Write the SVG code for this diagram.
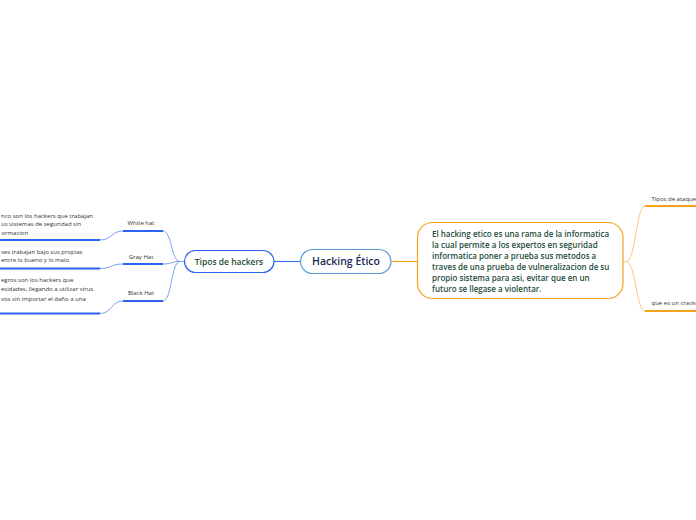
<svg xmlns="http://www.w3.org/2000/svg" width="696" height="520" viewBox="0 0 696 520">
<style>
.bg{fill:#ffffff}
.curveB{fill:none;stroke:#7f9ff5;stroke-width:1}
.lineB{fill:none;stroke:#2d63f0;stroke-width:2}
.curveO{fill:none;stroke:#fbc879;stroke-width:1}
.lineO{fill:none;stroke:#f7a21b;stroke-width:2}
.small{font-family:"Open Sans","Noto Sans",sans-serif;font-size:6px;fill:#333333}
.label{font-family:"Open Sans","Noto Sans",sans-serif;font-size:6px;fill:#333333;text-anchor:middle}
.main{font-family:"Open Sans","Noto Sans",sans-serif;font-size:10.5px;font-weight:600;fill:#1c2a55;text-anchor:middle}
.sub{font-family:"Open Sans","Noto Sans",sans-serif;font-size:8.5px;font-weight:600;fill:#1e4d3a;text-anchor:middle}
.desc{font-family:"Open Sans","Noto Sans",sans-serif;font-size:8px;font-weight:600;fill:#1e4d3a}
</style>
<rect class="bg" x="0" y="0" width="696" height="520"/>
<g id="connectors">
  <path d="M274,261.5 L300,261.5" fill="none" stroke="#3f72f5" stroke-width="1.2"/>
  <path d="M391,261.5 L417,261.5" fill="none" stroke="#f7a21b" stroke-width="1.2"/>
  <path class="curveB" d="M184,261.5 L180,261.5 C171,261.5 172,231 163,231"/>
  <path class="curveB" d="M180,261.5 C171,261.5 172,264 163,264"/>
  <path class="curveB" d="M180,261.5 C171,261.5 172,301 163,301"/>
  <path class="curveB" d="M123,231 C111,231 112,240 100,240"/>
  <path class="curveB" d="M123,264 C111,264 112,268.5 100,268.5"/>
  <path class="curveB" d="M123,301 C111,301 112,313.5 100,313.5"/>
  <path class="curveO" d="M623,261.5 L626,261.5 C636,261.5 636,206 645,206"/>
  <path class="curveO" d="M626,261.5 C636,261.5 636,311 645,311"/>
</g>
<g id="node-hacking-etico">
  <rect x="300.5" y="249.5" width="90.5" height="24" rx="12" fill="#ffffff" stroke="#5a9ad8" stroke-width="1.2"/>
  <text class="main" x="346" y="265.3">Hacking Ético</text>
</g>
<g id="node-tipos-hackers">
  <rect x="184.5" y="250.5" width="89.5" height="22" rx="11" fill="#ffffff" stroke="#2d63f0" stroke-width="1.2"/>
  <text class="sub" x="229" y="264.5">Tipos de hackers</text>
</g>
<g id="node-definicion">
  <rect x="417.5" y="222.5" width="205.5" height="76" rx="15" fill="#ffffff" stroke="#f7a21b" stroke-width="1.2"/>
  <text class="desc" x="432" y="237">El hacking etico es una rama de la informatica</text>
  <text class="desc" x="432" y="248">la cual permite a los expertos en seguridad</text>
  <text class="desc" x="432" y="259.2">informatica poner a prueba sus metodos a</text>
  <text class="desc" x="432" y="270.2">traves de una prueba de vulneralizacion de su</text>
  <text class="desc" x="432" y="281.2">propio sistema para asi, evitar que en un</text>
  <text class="desc" x="432" y="292">futuro se llegase a violentar.</text>
</g>
<g id="node-white-hat">
  <path class="lineB" d="M123,231 L163,231"/>
  <text class="label" x="141" y="225">White hat</text>
</g>
<g id="node-gray-hat">
  <path class="lineB" d="M123,264 L163,264"/>
  <text class="label" x="141" y="258.7">Gray Hat</text>
</g>
<g id="node-black-hat">
  <path class="lineB" d="M123,301 L163,301"/>
  <text class="label" x="141" y="295">Black Hat</text>
</g>
<g id="node-white-desc">
  <path class="lineB" d="M0,240 L100,240"/>
  <text class="small" x="1" y="217.7">nco son los hackers que trabajan</text>
  <text class="small" x="1" y="226.3">us sistemas de seguridad sin</text>
  <text class="small" x="1.5" y="235">ormacion</text>
</g>
<g id="node-gray-desc">
  <path class="lineB" d="M0,268.5 L100,268.5"/>
  <text class="small" x="1" y="253.8">ses trabajan bajo sus propias</text>
  <text class="small" x="1" y="262.2">entre lo bueno y lo malo</text>
</g>
<g id="node-black-desc">
  <path class="lineB" d="M0,313.5 L100,313.5"/>
  <text class="small" x="1" y="282">egros son los hackers que</text>
  <text class="small" x="1" y="291.3">esidades, llegando a utilizar virus</text>
  <text class="small" x="1" y="300.7">vos sin importar el daño a una</text>
</g>
<g id="node-tipos-ataques">
  <path class="lineO" d="M645,206 L696,206"/>
  <text class="small" x="651.5" y="201">Tipos de ataque</text>
</g>
<g id="node-cracker">
  <path class="lineO" d="M645,311 L696,311"/>
  <text class="small" x="651.5" y="305">que es un cracke</text>
</g>
</svg>
